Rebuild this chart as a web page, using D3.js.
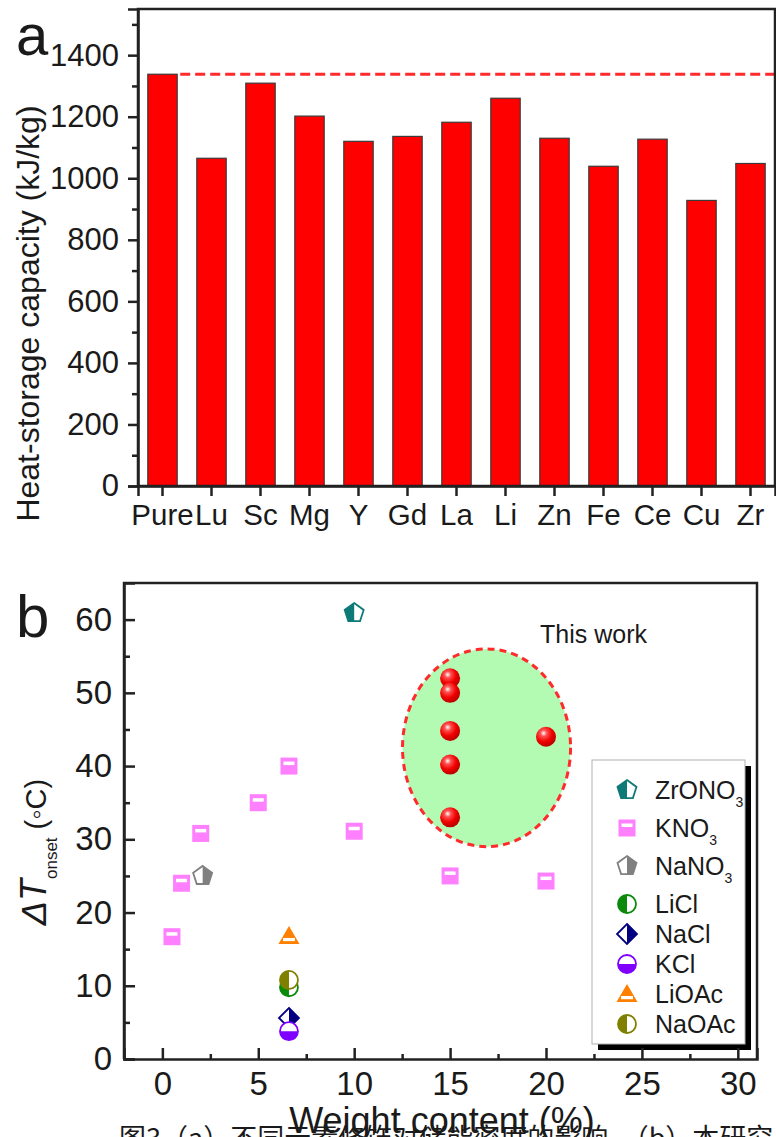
<!DOCTYPE html>
<html>
<head>
<meta charset="utf-8">
<script src="https://cdn.jsdelivr.net/npm/d3@7"></script>
<style>
  body { margin: 0; background: #fff; }
  text { font-family: "Liberation Sans", Arial, sans-serif; fill: #1a1a1a; }
</style>
</head>
<body>
<svg id="chart" width="776" height="1137"></svg>
<script>
// ---- panel a data ----
var elements = ["Pure", "Lu", "Sc", "Mg", "Y", "Gd", "La", "Li", "Zn", "Fe", "Ce", "Cu", "Zr"];
var capacity = [1338, 1065, 1309, 1202, 1120, 1136, 1182, 1260, 1130, 1039, 1127, 928, 1048];
var capTicks = [0, 200, 400, 600, 800, 1000, 1200, 1400];

// ---- panel b data ([weight %, dT onset]) ----
var zrono3 = [[10, 60.9]];
var kno3 = [[0.5, 16.7], [1, 24], [2, 30.8], [5, 35], [6.6, 40], [10, 31.1], [15, 25], [20, 24.3]];
var nano3 = [[2.1, 25]];
var licl = [[6.6, 9.8]];
var nacl = [[6.6, 5.6]];
var kcl = [[6.6, 3.8]];
var lioac = [[6.6, 16.8]];
var naoac = [[6.6, 10.8]];
var thisWork = [[15, 52], [15, 50], [15, 44.8], [15, 40.2], [15, 33], [20, 44]];
var workRegion = { cx: 16.9, cy: 42.5, rx: 4.38, ry: 13.5 };
var weightTicks = [0, 5, 10, 15, 20, 25, 30];
var dtTicks = [0, 10, 20, 30, 40, 50, 60];

var svg = d3.select("#chart");

/*==========  panel a  ==========*/
var a = { left: 138, right: 775, top: 9, bottom: 486 };

var xa = d3.scaleBand()
    .domain(elements)
    .range([a.left, a.right])
    .paddingInner(0.4)
    .paddingOuter(0.2);

var ya = d3.scaleLinear()
    .domain([0, 1550])
    .range([a.bottom, a.top]);

var gA = svg.append("g");

gA.selectAll("rect.bar")
    .data(capacity)
    .enter().append("rect")
    .attr("class", "bar")
    .attr("x", function(d, i) { return xa(elements[i]); })
    .attr("y", function(d) { return ya(d); })
    .attr("width", xa.bandwidth())
    .attr("height", function(d) { return ya(0) - ya(d); })
    .style("fill", "#ff0000")
    .style("stroke", "#3a3a3a")
    .style("stroke-width", 1.2);

// reference line at the pure sample level
gA.append("line")
    .attr("x1", xa("Pure") + xa.bandwidth() + 3)
    .attr("x2", a.right)
    .attr("y1", ya(capacity[0]))
    .attr("y2", ya(capacity[0]))
    .style("stroke", "#ff2a2a")
    .style("stroke-width", 3)
    .style("stroke-dasharray", "10,5");

// frame
gA.append("rect")
    .attr("x", a.left).attr("y", a.top)
    .attr("width", a.right - a.left).attr("height", a.bottom - a.top)
    .style("fill", "none").style("stroke", "#222").style("stroke-width", 2.5);

// minor y ticks
gA.append("g")
    .attr("transform", "translate(" + a.left + ",0)")
    .call(d3.axisLeft(ya).tickValues(d3.range(100, 1600, 200)).tickSize(6).tickFormat(""))
    .call(function(g) { g.select(".domain").remove(); });

var yAxisA = gA.append("g")
    .attr("transform", "translate(" + a.left + ",0)")
    .call(d3.axisLeft(ya).tickValues(capTicks).tickSize(10).tickPadding(9).tickFormat(d3.format("d")));

var xAxisA = gA.append("g")
    .attr("transform", "translate(0," + a.bottom + ")")
    .call(d3.axisBottom(xa).tickSize(10).tickPadding(8));

[yAxisA, xAxisA].forEach(function(ax) {
    ax.select(".domain").style("stroke", "#222").style("stroke-width", 2.5);
    ax.selectAll(".tick text").style("font-size", "31px").style("fill", "#1a1a1a");
});
xAxisA.selectAll(".tick text").style("font-size", "29.5px");
gA.selectAll(".tick line").style("stroke", "#222").style("stroke-width", 2.5);

gA.append("text")
    .attr("transform", "translate(39," + ((a.top + a.bottom) / 2 + 66) + ") rotate(-90)")
    .attr("text-anchor", "middle")
    .style("font-size", "32px")
    .text("Heat-storage capacity (kJ/kg)");

gA.append("text")
    .attr("x", 16).attr("y", 55)
    .style("font-size", "58px")
    .text("a");

/*==========  panel b  ==========*/
var b = { left: 124, right: 757, top: 583, bottom: 1059 };

var xb = d3.scaleLinear().domain([-2, 31]).range([b.left, b.right]);
var yb = d3.scaleLinear().domain([0, 65]).range([b.bottom, b.top]);

var gB = svg.append("g");

var defs = svg.append("defs");
var grad = defs.append("radialGradient")
    .attr("id", "sphere").attr("cx", "38%").attr("cy", "32%").attr("r", "65%");
grad.append("stop").attr("offset", "0%").attr("stop-color", "#ffffff");
grad.append("stop").attr("offset", "25%").attr("stop-color", "#ff5050");
grad.append("stop").attr("offset", "65%").attr("stop-color", "#f00000");
grad.append("stop").attr("offset", "100%").attr("stop-color", "#c00000");

gB.append("ellipse")
    .attr("cx", xb(workRegion.cx))
    .attr("cy", yb(workRegion.cy))
    .attr("rx", xb(workRegion.cx + workRegion.rx) - xb(workRegion.cx))
    .attr("ry", yb(workRegion.cy) - yb(workRegion.cy + workRegion.ry))
    .style("fill", "#b3fab3")
    .style("stroke", "#ff2a2a")
    .style("stroke-width", 3)
    .style("stroke-dasharray", "7,5");

gB.append("text")
    .attr("x", 540).attr("y", yb(56.8))
    .style("font-size", "25px")
    .text("This work");

// ---- marker drawing helpers ----
function polyPoints(n, r, rot) {
    var pts = [];
    for (var k = 0; k < n; k++) {
        var ang = rot + k * 2 * Math.PI / n;
        pts.push([r * Math.cos(ang), r * Math.sin(ang)]);
    }
    return pts;
}

// draws a shape filled on one half (side: "left", "right", "bottom"), white on the other
function halfShape(g, shapeFn, color, side, id) {
    var clipId = "clip-" + id;
    var r = 12;
    var clip = defs.append("clipPath").attr("id", clipId);
    if (side === "left") clip.append("rect").attr("x", -r).attr("y", -r).attr("width", r).attr("height", 2 * r);
    if (side === "right") clip.append("rect").attr("x", 0).attr("y", -r).attr("width", r).attr("height", 2 * r);
    if (side === "bottom") clip.append("rect").attr("x", -r).attr("y", 0).attr("width", 2 * r).attr("height", r);
    shapeFn(g).style("fill", "#fff").style("stroke", color).style("stroke-width", 1.8);
    shapeFn(g).style("fill", color).attr("clip-path", "url(#" + clipId + ")");
}

var markerCount = 0;
var symbols = {
    pentagon: function(g) {
        return g.append("polygon").attr("points", polyPoints(5, 10, -Math.PI / 2).join(" "));
    },
    circle: function(g) { return g.append("circle").attr("r", 9); },
    diamond: function(g) {
        return g.append("polygon").attr("points", "0,-10 10,0 0,10 -10,0");
    }
};

function drawMarker(g, kind, color) {
    markerCount++;
    if (kind === "zrono3") halfShape(g, symbols.pentagon, color, "left", markerCount);
    if (kind === "nano3") halfShape(g, symbols.pentagon, color, "right", markerCount);
    if (kind === "licl" || kind === "naoac") halfShape(g, symbols.circle, color, "left", markerCount);
    if (kind === "nacl") halfShape(g, symbols.diamond, color, "right", markerCount);
    if (kind === "kcl") halfShape(g, symbols.circle, color, "bottom", markerCount);
    if (kind === "kno3") {
        g.append("rect").attr("x", -8.5).attr("y", -8.5).attr("width", 17).attr("height", 17)
            .style("fill", color);
        g.append("rect").attr("x", -5.5).attr("y", -4.5).attr("width", 11).attr("height", 3.5)
            .style("fill", "#fff");
    }
    if (kind === "lioac") {
        g.append("polygon").attr("points", "0,-10 10.5,8 -10.5,8").style("fill", color);
        g.append("rect").attr("x", -6).attr("y", 2).attr("width", 12).attr("height", 3.2)
            .style("fill", "#fff");
    }
    if (kind === "work") {
        g.append("circle").attr("r", 10).style("fill", "url(#sphere)");
    }
}

var series = [
    { key: "zrono3", name: "ZrONO", sub: "3", color: "#0e7a78", data: zrono3 },
    { key: "kno3", name: "KNO", sub: "3", color: "#ff80ff", data: kno3 },
    { key: "nano3", name: "NaNO", sub: "3", color: "#808080", data: nano3 },
    { key: "licl", name: "LiCl", sub: "", color: "#0a8a0a", data: licl },
    { key: "nacl", name: "NaCl", sub: "", color: "#000080", data: nacl },
    { key: "kcl", name: "KCl", sub: "", color: "#7f00ff", data: kcl },
    { key: "lioac", name: "LiOAc", sub: "", color: "#ff8000", data: lioac },
    { key: "naoac", name: "NaOAc", sub: "", color: "#808000", data: naoac }
];

series.forEach(function(s) {
    s.data.forEach(function(p) {
        var g = gB.append("g").attr("transform", "translate(" + xb(p[0]) + "," + yb(p[1]) + ")");
        drawMarker(g, s.key, s.color);
    });
});

thisWork.forEach(function(p) {
    var g = gB.append("g").attr("transform", "translate(" + xb(p[0]) + "," + yb(p[1]) + ")");
    drawMarker(g, "work");
});

// legend with offset shadow
var lg = { x: 592, y: 760, w: 153, h: 284 };
gB.append("rect")
    .attr("x", lg.x + 6).attr("y", lg.y + 6).attr("width", lg.w).attr("height", lg.h)
    .style("fill", "#000");
gB.append("rect")
    .attr("x", lg.x).attr("y", lg.y).attr("width", lg.w).attr("height", lg.h)
    .style("fill", "#fff").style("stroke", "#b0b0b0").style("stroke-width", 1);

var rowY = lg.y + 30;
series.forEach(function(s) {
    var g = gB.append("g").attr("transform", "translate(" + (lg.x + 35) + "," + rowY + ")");
    drawMarker(g, s.key, s.color);
    var t = gB.append("text")
        .attr("x", lg.x + 63).attr("y", rowY + 9)
        .style("font-size", "25px")
        .text(s.name);
    if (s.sub) {
        t.append("tspan").attr("dy", 8).style("font-size", "14px").text(s.sub);
    }
    rowY += s.sub ? 38 : 30;
});

// frame
gB.append("path")
    .attr("d", "M" + b.left + "," + b.bottom + "V" + b.top + "H" + b.right + "V" + b.bottom)
    .style("fill", "none").style("stroke", "#222").style("stroke-width", 2.5);

// minor ticks (inward)
gB.append("g")
    .attr("transform", "translate(" + b.left + ",0)")
    .call(d3.axisLeft(yb).tickValues(d3.range(5, 65, 10)).tickSize(-6).tickFormat(""))
    .call(function(g) { g.select(".domain").remove(); });
gB.append("g")
    .attr("transform", "translate(0," + b.bottom + ")")
    .call(d3.axisBottom(xb).tickValues(d3.range(2.5, 31, 5)).tickSize(-5).tickFormat(""))
    .call(function(g) { g.select(".domain").remove(); });

var yAxisB = gB.append("g")
    .attr("transform", "translate(" + b.left + ",0)")
    .call(d3.axisLeft(yb).tickValues(dtTicks).tickSize(-11).tickPadding(12));

var xAxisB = gB.append("g")
    .attr("transform", "translate(0," + b.bottom + ")")
    .call(d3.axisBottom(xb).tickValues(weightTicks).tickSize(-11).tickPadding(13));

[yAxisB, xAxisB].forEach(function(ax) {
    ax.select(".domain").style("stroke", "#222").style("stroke-width", 2.5);
    ax.selectAll(".tick text").style("font-size", "33px").style("fill", "#1a1a1a");
});
gB.selectAll(".tick line").style("stroke", "#222").style("stroke-width", 2.5);

var yTitleB = gB.append("text")
    .attr("transform", "translate(46,852) rotate(-90)")
    .attr("text-anchor", "middle")
    .style("font-size", "29px");
yTitleB.append("tspan").style("font-style", "italic").style("font-size", "36px").text("\u0394T");
yTitleB.append("tspan").attr("dy", 11).style("font-size", "17px").text("onset");
yTitleB.append("tspan").attr("dy", -11).text(" (\u25E6C)");

gB.append("text")
    .attr("x", 16).attr("y", 637)
    .style("font-size", "60px")
    .text("b");

// figure caption, cut by the page edge
svg.append("text")
    .attr("x", 119).attr("y", 1148)
    .style("font-family", "'Noto Sans CJK SC', sans-serif")
    .style("font-size", "27px")
    .text("图3（a）不同元素修饰对储能密度的影响，（b）本研究");

svg.append("text")
    .attr("x", 442).attr("y", 1133)
    .attr("text-anchor", "middle")
    .style("font-size", "36px")
    .text("Weight content (%)");
</script>
</body>
</html>
